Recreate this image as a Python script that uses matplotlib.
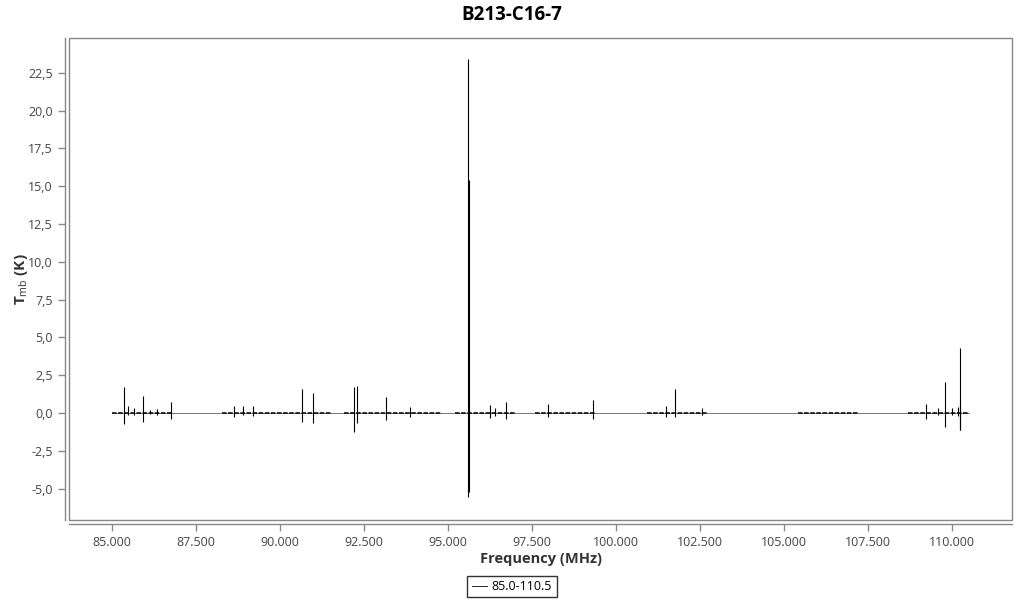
import matplotlib.pyplot as plt
from matplotlib.patches import Rectangle
from matplotlib.lines import Line2D

plt.rcParams['font.family'] = ['Open Sans', 'DejaVu Sans']
plt.rcParams['mathtext.fontset'] = 'custom'
plt.rcParams['mathtext.rm'] = 'Open Sans'
plt.rcParams['mathtext.bf'] = 'Open Sans:bold'

# Observed band and the sub-bands that hold data (MHz, shown in GHz-like units)
band = [85.0, 110.5]
seg_start = [85.00, 88.27, 91.90, 95.21, 97.59, 100.92, 105.42, 108.70]
seg_end = [86.79, 91.52, 94.80, 97.00, 99.40, 102.70, 107.20, 110.50]

# Line features: frequency, peak and trough (K)
spike_freq = [85.36, 85.48, 85.65, 85.92, 86.13, 86.34, 86.76,
              88.63, 88.89, 89.19, 90.66, 90.99,
              92.21, 92.28, 93.15, 93.87,
              95.59, 95.61, 96.25, 96.40, 96.73, 97.98,
              99.30, 101.49, 101.76, 102.57,
              109.22, 109.59, 109.80, 109.99, 110.16, 110.22, 110.24]
spike_top = [1.74, 0.46, 0.30, 1.12, 0.20, 0.26, 0.75,
             0.46, 0.48, 0.46, 1.60, 1.30,
             1.74, 1.79, 1.08, 0.40,
             23.43, 15.42, 0.53, 0.35, 0.75, 0.62,
             0.86, 0.46, 1.57, 0.33,
             0.60, 0.33, 2.07, 0.30, 0.42, 4.28, 0.60]
spike_bottom = [-0.72, -0.15, -0.15, -0.57, -0.10, -0.12, -0.40,
                -0.25, -0.15, -0.20, -0.60, -0.68,
                -1.24, -0.66, -0.46, -0.25,
                -5.56, -5.20, -0.33, -0.20, -0.42, -0.27,
                -0.40, -0.27, -0.24, -0.15,
                -0.40, -0.15, -0.90, -0.12, -0.20, -1.12, -1.10]

x_ticks = [85.0, 87.5, 90.0, 92.5, 95.0, 97.5, 100.0, 102.5, 105.0, 107.5, 110.0]
x_labels = ['85.000', '87.500', '90.000', '92.500', '95.000', '97.500',
            '100.000', '102.500', '105.000', '107.500', '110.000']
y_ticks = [-5.0, -2.5, 0.0, 2.5, 5.0, 7.5, 10.0, 12.5, 15.0, 17.5, 20.0, 22.5]
y_labels = ['-5,0', '-2,5', '0,0', '2,5', '5,0', '7,5', '10,0', '12,5',
            '15,0', '17,5', '20,0', '22,5']

fig = plt.figure(figsize=(10.24, 6.0), dpi=100)
ax = fig.add_axes([69 / 1024, 1 - 520 / 600, (1012 - 69) / 1024, (520 - 38) / 600])

# baseline across the whole band, then the noisy sub-bands on top
ax.plot(band, [0, 0], color='#777777', lw=0.7)
for s, e in zip(seg_start, seg_end):
    ax.plot([s, e], [0, 0], color='black', lw=1.1, dashes=(3, 1))
ax.vlines(spike_freq, spike_bottom, spike_top, color='black', lw=0.8)

ax.set_xlim(83.72, 111.78)
ax.set_ylim(-7.08, 24.8)

# frame of the plot area plus detached axis lines
ax.add_patch(Rectangle((0, 0), 1, 1, transform=ax.transAxes, fill=False,
                       edgecolor='#888888', lw=1.0, clip_on=False, zorder=5))
for side in ['top', 'right']:
    ax.spines[side].set_visible(False)
for side in ['left', 'bottom']:
    ax.spines[side].set_position(('outward', 3))
    ax.spines[side].set_color('#888888')
    ax.spines[side].set_linewidth(1.0)

ax.set_xticks(x_ticks)
ax.set_xticklabels(x_labels)
ax.set_yticks(y_ticks)
ax.set_yticklabels(y_labels)
ax.tick_params(axis='both', colors='#888888', labelcolor='#444444',
               labelsize=9, length=5, width=1.0)

ax.set_xlabel('Frequency (MHz)', fontsize=10.5, fontweight='bold', color='#333333', labelpad=2)
ax.set_ylabel(r'$\mathbf{T}_{\mathrm{mb}}$ (K)', fontsize=11, fontweight='bold',
              color='#333333', labelpad=-1)
fig.suptitle('B213-C16-7', x=0.5, y=1 - 5 / 600, fontsize=13.5, fontweight='bold', va='top')

handle = Line2D([], [], color='black', lw=0.6)
fig.legend([handle], ['85.0-110.5'], loc='center', bbox_to_anchor=(0.5, 1 - 586.5 / 600),
           fontsize=9, frameon=True, fancybox=False, edgecolor='black',
           handlelength=1.2, handletextpad=0.4, borderpad=0.35, borderaxespad=0)

fig.savefig('out.png', dpi=100)
